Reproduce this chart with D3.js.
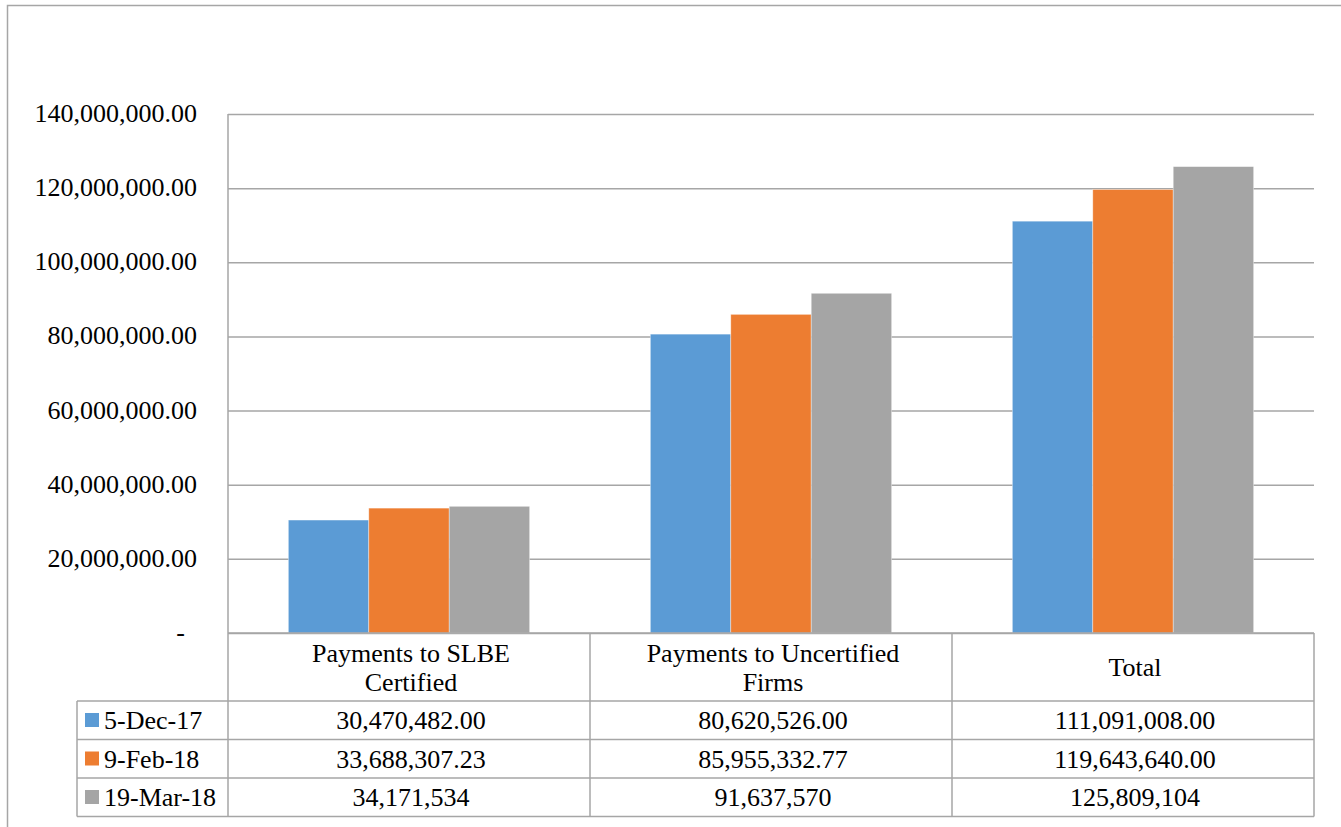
<!DOCTYPE html>
<html>
<head>
<meta charset="utf-8">
<script src="https://cdn.jsdelivr.net/npm/d3@7/dist/d3.min.js"></script>
<style>
html,body{margin:0;padding:0;background:#fff;}
svg text{font-family:'Liberation Serif','Times New Roman',serif;}
</style>
</head>
<body>
<svg id="chart" width="1341" height="827"></svg>
<script>
const categories = ["Payments to SLBE Certified", "Payments to Uncertified Firms", "Total"];
const categoryLines = [["Payments to SLBE", "Certified"], ["Payments to Uncertified", "Firms"], ["Total"]];
const seriesNames = ["5-Dec-17", "9-Feb-18", "19-Mar-18"];
const seriesColors = ["#5B9BD5", "#ED7D31", "#A5A5A5"];
const values_5Dec17 = [30470482.00, 80620526.00, 111091008.00];
const values_9Feb18 = [33688307.23, 85955332.77, 119643640.00];
const values_19Mar18 = [34171534, 91637570, 125809104];
const tableLabels_5Dec17 = ["30,470,482.00", "80,620,526.00", "111,091,008.00"];
const tableLabels_9Feb18 = ["33,688,307.23", "85,955,332.77", "119,643,640.00"];
const tableLabels_19Mar18 = ["34,171,534", "91,637,570", "125,809,104"];
const yTicks = [0, 20000000, 40000000, 60000000, 80000000, 100000000, 120000000, 140000000];

const seriesValues = [values_5Dec17, values_9Feb18, values_19Mar18];
const seriesLabels = [tableLabels_5Dec17, tableLabels_9Feb18, tableLabels_19Mar18];

const svg = d3.select("#chart");
const gridColor = "#A6A6A6";
const fontSize = 26;
const fontFamily = "'Liberation Serif', 'Times New Roman', serif";

const plot = {left: 228, right: 1314, top: 114, bottom: 633};
const tableLeft = 77;
const headerBottom = 701;
const rowH = 38.5;

function txt(sel) {
  return sel.style("font-family", fontFamily).attr("font-size", fontSize).attr("fill", "#000");
}

// outer frame
svg.append("rect").attr("x", 7.5).attr("y", 5.5).attr("width", 1400).attr("height", 900)
  .attr("fill", "none").attr("stroke", "#A6A6A6").attr("stroke-width", 1.5);

const x0 = d3.scaleBand().domain(categories).range([plot.left, plot.right]).paddingInner(0).paddingOuter(0);
const x1 = d3.scaleBand().domain(seriesNames).range([0, x0.bandwidth()]).paddingInner(0).paddingOuter(0.75);
const y = d3.scaleLinear().domain([0, 140000000]).range([plot.bottom, plot.top]);

// gridlines
const yAxis = d3.axisLeft(y).tickValues(yTicks).tickSize(-(plot.right - plot.left)).tickFormat("");
const ga = svg.append("g").attr("transform", `translate(${plot.left},0)`).call(yAxis);
ga.select(".domain").remove();
ga.selectAll(".tick line").attr("stroke", gridColor).attr("stroke-width", 1.5);

// y tick labels
const fmt = d3.format(",.2f");
svg.append("g").selectAll("text").data(yTicks).join("text")
  .attr("x", d => d === 0 ? 185 : 197)
  .attr("y", d => y(d) + 8)
  .attr("text-anchor", "end")
  .call(txt)
  .text(d => d === 0 ? "-" : fmt(d));

// bars
const groups = svg.append("g").selectAll("g").data(categories).join("g")
  .attr("transform", d => `translate(${x0(d)},0)`);
groups.selectAll("rect").data((c, ci) => seriesNames.map((s, si) => ({s, si, v: seriesValues[si][ci]})))
  .join("rect")
  .attr("x", d => x1(d.s))
  .attr("width", x1.bandwidth())
  .attr("y", d => y(d.v))
  .attr("height", d => y(0) - y(d.v))
  .attr("fill", d => seriesColors[d.si])
  .attr("stroke", "rgba(255,255,255,0.5)")
  .attr("stroke-width", 0.75);

// table lines
const tbl = svg.append("g").attr("stroke", gridColor).attr("stroke-width", 1.5).attr("fill", "none");
const tableBottom = headerBottom + rowH * 3;
tbl.append("line").attr("x1", plot.left).attr("x2", plot.left).attr("y1", plot.top).attr("y2", tableBottom);
tbl.append("line").attr("x1", plot.left).attr("x2", plot.right).attr("y1", plot.bottom).attr("y2", plot.bottom);
for (let i = 0; i <= 3; i++) {
  const yy = headerBottom + rowH * i;
  tbl.append("line").attr("x1", tableLeft).attr("x2", plot.right).attr("y1", yy).attr("y2", yy);
}
tbl.append("line").attr("x1", tableLeft).attr("x2", tableLeft).attr("y1", headerBottom).attr("y2", tableBottom);
categories.forEach((c, i) => {
  const xx = x0(c) + x0.bandwidth();
  tbl.append("line").attr("x1", xx).attr("x2", xx).attr("y1", plot.bottom).attr("y2", tableBottom);
});

// header labels
categories.forEach((c, i) => {
  const lines = categoryLines[i];
  const cx = x0(c) + x0.bandwidth() / 2 + 2;
  const t = svg.append("text").attr("text-anchor", "middle").call(txt);
  if (lines.length === 1) {
    t.append("tspan").attr("x", cx).attr("y", 676).text(lines[0]);
  } else {
    lines.forEach((l, li) => t.append("tspan").attr("x", cx).attr("y", 662 + li * 29).text(l));
  }
});

// rows
seriesNames.forEach((s, si) => {
  const top = headerBottom + rowH * si;
  svg.append("rect").attr("x", 85).attr("y", top + 12).attr("width", 14).attr("height", 14).attr("fill", seriesColors[si]);
  svg.append("text").attr("x", 104).attr("y", top + 28).call(txt).text(s);
  categories.forEach((c, ci) => {
    svg.append("text").attr("x", x0(c) + x0.bandwidth() / 2 + 2).attr("y", top + 28)
      .attr("text-anchor", "middle").call(txt)
      .text(seriesLabels[si][ci]);
  });
});
</script>
</body>
</html>
